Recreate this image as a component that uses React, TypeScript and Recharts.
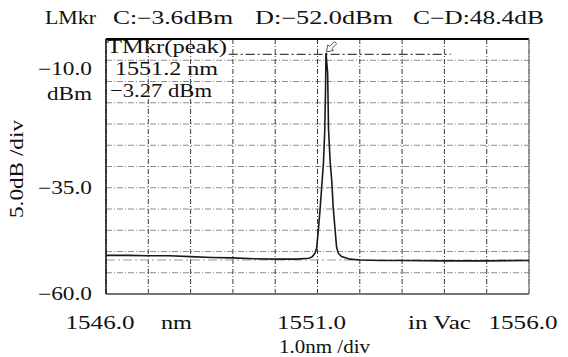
import { LineChart, Line, XAxis, YAxis, CartesianGrid, ReferenceLine, ReferenceDot } from "recharts";

// spectrum trace (nm, dBm)
const wavelengths = [
  1546.0, 1546.5, 1547.0, 1547.5, 1548.0, 1548.5, 1549.0, 1549.5, 1550.0, 1550.5,
  1550.8, 1550.88, 1550.94, 1550.98, 1551.02, 1551.06, 1551.1, 1551.14, 1551.17, 1551.19,
  1551.2, 1551.24, 1551.26, 1551.3, 1551.34, 1551.37, 1551.41, 1551.45, 1551.49, 1551.57,
  1551.77, 1552.0, 1552.5, 1553.0, 1554.0, 1555.0, 1556.0,
];
const powers = [
  -50.9, -50.9, -51.0, -51.0, -51.2, -51.4, -51.5, -51.7, -51.8, -51.8,
  -51.6, -51.2, -50.4, -49.2, -45.0, -40.2, -34.7, -29.3, -22.0, -12.0,
  -3.27, -8.0, -21.0, -29.0, -33.8, -39.5, -44.2, -48.9, -50.4, -51.2,
  -51.8, -52.0, -52.1, -52.1, -52.2, -52.2, -52.1,
];

const gridX = [1546, 1547, 1548, 1549, 1550, 1551, 1552, 1553, 1554, 1555, 1556];
const gridY = [0, -5, -10, -15, -20, -25, -30, -35, -40, -45, -50, -55, -60];
const xLabels = [1546, 1551, 1556];
const yLabels = [-10, -35, -60];

const markerC = -3.6;
const markerD = -52.0;
const peakNm = 1551.2;
const peakDbm = -3.27;

const data = wavelengths.map((nm, i) => ({ nm, dbm: powers[i] }));

const FONT = "Liberation Serif, DejaVu Serif, Times New Roman, serif";
const fmt = (v: number) => (v < 0 ? "\u2212" + Math.abs(v).toFixed(1) : v.toFixed(1));

function XTick(props: any) {
  const { x, payload } = props;
  if (!xLabels.includes(payload.value)) return null;
  return (
    <text x={x - 6} y={329} textAnchor="middle" style={{ fontFamily: FONT }} fontSize={18} fill="#111" textLength={69} lengthAdjust="spacingAndGlyphs">
      {payload.value.toFixed(1)}
    </text>
  );
}

function YTick(props: any) {
  const { y, payload } = props;
  if (!yLabels.includes(payload.value)) return null;
  const shift = payload.value === -10 ? -7 : 6;
  return (
    <text x={92} y={y + shift} textAnchor="end" style={{ fontFamily: FONT }} fontSize={18} fill="#111" textLength={54} lengthAdjust="spacingAndGlyphs">
      {fmt(payload.value)}
    </text>
  );
}

function PeakArrow(props: any) {
  const { cx, cy } = props;
  return (
    <path
      transform={`translate(${cx + 0.5},${cy - 1})`}
      d="M0,0 L7.07,-1.41 L5.3,-3.18 L10.25,-8.13 L8.13,-10.25 L3.18,-5.3 L1.41,-7.07 Z"
      fill="#fff"
      stroke="#555"
      strokeWidth={1}
    />
  );
}

function T(p: { x: number; y: number; w?: number; size?: number; anchor?: string; children: string; rotate?: boolean }) {
  return (
    <text
      x={p.x}
      y={p.y}
      style={{ fontFamily: FONT }}
      fontSize={p.size ?? 18}
      fill="#111"
      textAnchor={p.anchor ?? "start"}
      textLength={p.w}
      lengthAdjust="spacingAndGlyphs"
      transform={p.rotate ? `rotate(-90 ${p.x} ${p.y})` : undefined}
    >
      {p.children}
    </text>
  );
}

export default function App() {
  return (
    <div style={{ position: "absolute", left: 0, top: 0, width: 568, height: 357, background: "#fff" }}>
      <LineChart width={568} height={357} data={data} margin={{ top: 39, right: 39, bottom: 33, left: 46 }}>
        <CartesianGrid vertical={false} stroke="#8c8c8c" strokeDasharray="6 2 1 2" />
        <CartesianGrid horizontal={false} stroke="#3a3a3a" strokeDasharray="5 2 1 2" />
        <XAxis
          type="number"
          dataKey="nm"
          domain={[1546, 1556]}
          ticks={gridX}
          interval={0}
          height={30}
          axisLine={{ stroke: "#777", strokeWidth: 2 }}
          tickLine={false}
          tick={<XTick />}
        />
        <YAxis
          type="number"
          domain={[-60, 0]}
          ticks={gridY}
          interval={0}
          width={60}
          axisLine={{ stroke: "#111", strokeWidth: 1.5 }}
          tickLine={false}
          tick={<YTick />}
        />
        <ReferenceLine y={0} stroke="#000" strokeWidth={2} />
        <ReferenceLine x={1556} stroke="#888" strokeWidth={1.5} />
        <ReferenceLine y={markerD} stroke="#9a9a9a" strokeWidth={1.2} strokeDasharray="9 3 2 3" />
        <ReferenceLine
          segment={[{ x: 1548.9, y: markerC }, { x: 1554.15, y: markerC }]}
          stroke="#111"
          strokeWidth={1}
          strokeDasharray="9 3 2 3"
        />
        <Line type="linear" dataKey="dbm" stroke="#1a1a1a" strokeWidth={1.6} dot={false} isAnimationActive={false} />
        <ReferenceDot x={peakNm} y={peakDbm} shape={<PeakArrow />} />
      </LineChart>
      <svg width={568} height={357} style={{ position: "absolute", left: 0, top: 0, pointerEvents: "none" }}>
        <T x={45} y={24} w={51} size={18}>LMkr</T>
        <T x={113} y={24} w={120} size={18}>{"C:\u22123.6dBm"}</T>
        <T x={255} y={24} w={138} size={18}>{"D:\u221252.0dBm"}</T>
        <T x={413} y={24} w={131} size={18}>{"C\u2212D:48.4dB"}</T>
        <T x={47} y={100} w={45}>dBm</T>
        <T x={23} y={218} w={98} rotate>5.0dB /div</T>
        <T x={161} y={329} w={31}>nm</T>
        <T x={408} y={329} w={63}>in Vac</T>
        <T x={279} y={353} w={91}>1.0nm /div</T>
        <T x={107} y={53} w={120} size={19}>TMkr(peak)</T>
        <T x={115} y={75} w={103} size={19}>1551.2 nm</T>
        <T x={110} y={97} w={102} size={19}>{"\u22123.27 dBm"}</T>
      </svg>
    </div>
  );
}
